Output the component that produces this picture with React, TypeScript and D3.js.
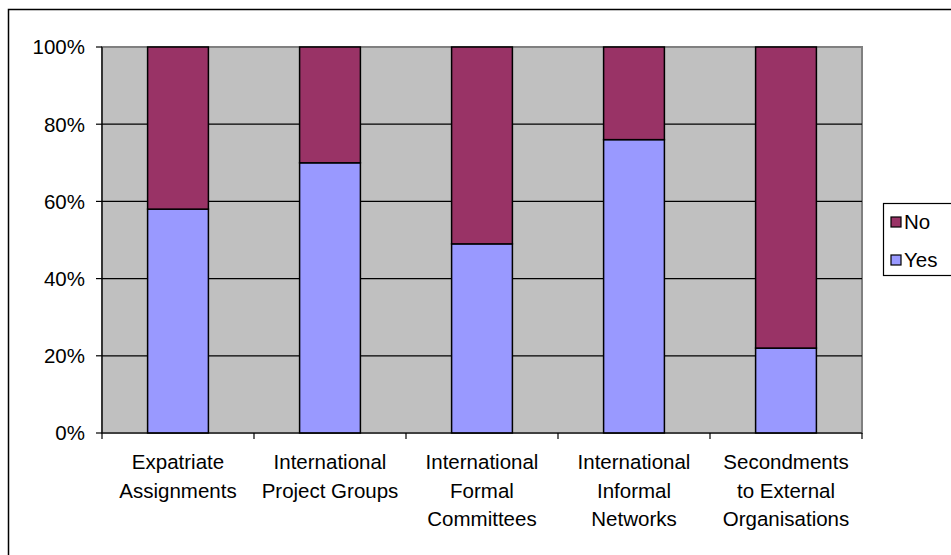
import React, { useRef, useEffect } from "react";
import * as d3 from "d3";

// Data
const categories: string[][] = [
  ["Expatriate", "Assignments"],
  ["International", "Project Groups"],
  ["International", "Formal", "Committees"],
  ["International", "Informal", "Networks"],
  ["Secondments", "to External", "Organisations"],
];
const yesValues = [58, 70, 49, 76, 22];
const noValues = yesValues.map((v) => 100 - v);
const yTicks = [0, 20, 40, 60, 80, 100];
const seriesNames = ["No", "Yes"];

const App: React.FC = () => {
  const svgRef = useRef<SVGSVGElement | null>(null);

  useEffect(() => {
    const width = 951;
    const height = 555;
    const plot = { left: 102, top: 47, right: 862, bottom: 433 };
    const font = "Arial, 'Liberation Sans', sans-serif";
    const fontSize = "20.5px";

    const svg = d3.select(svgRef.current);
    svg.selectAll("*").remove();
    svg.attr("width", width).attr("height", height);

    // chart background + border (runs off the right/bottom edge)
    svg
      .append("rect")
      .attr("x", 8.5)
      .attr("y", 9.5)
      .attr("width", width)
      .attr("height", height)
      .attr("fill", "white")
      .attr("stroke", "black")
      .attr("stroke-width", 1.5);

    // category bands: one band per category, bar = band / 2.5 (gap 150%)
    const x = d3
      .scaleBand<number>()
      .domain(d3.range(categories.length))
      .range([plot.left, plot.right]);
    const cw = x.bandwidth();
    const bw = cw / 2.5;
    const barX = (i: number) => (x(i) as number) + (cw - bw) / 2;
    const edge = (i: number) => plot.left + i * cw;

    const y = d3.scaleLinear().domain([0, 100]).range([plot.bottom, plot.top]);

    // plot area
    svg
      .append("rect")
      .attr("x", plot.left)
      .attr("y", plot.top)
      .attr("width", plot.right - plot.left)
      .attr("height", plot.bottom - plot.top)
      .attr("fill", "#C0C0C0")
      .attr("stroke", "#808080")
      .attr("stroke-width", 2);

    // gridlines
    svg
      .append("g")
      .selectAll("line")
      .data(yTicks.filter((t) => t > 0 && t < 100))
      .join("line")
      .attr("x1", plot.left)
      .attr("x2", plot.right)
      .attr("y1", (d) => y(d))
      .attr("y2", (d) => y(d))
      .attr("stroke", "black")
      .attr("stroke-width", 1.2);

    // bars
    svg
      .append("g")
      .selectAll("rect")
      .data(yesValues)
      .join("rect")
      .attr("x", (_, i) => barX(i))
      .attr("y", (d) => y(d))
      .attr("width", bw)
      .attr("height", (d) => y(0) - y(d))
      .attr("fill", "#9999FF")
      .attr("stroke", "black")
      .attr("stroke-width", 1.5);

    svg
      .append("g")
      .selectAll("rect")
      .data(noValues)
      .join("rect")
      .attr("x", (_, i) => barX(i))
      .attr("y", (d, i) => y(yesValues[i] + d))
      .attr("width", bw)
      .attr("height", (d) => y(0) - y(d))
      .attr("fill", "#993366")
      .attr("stroke", "black")
      .attr("stroke-width", 1.5);

    // axis lines
    svg
      .append("line")
      .attr("x1", plot.left)
      .attr("x2", plot.left)
      .attr("y1", plot.top)
      .attr("y2", plot.bottom)
      .attr("stroke", "black")
      .attr("stroke-width", 1.2);
    svg
      .append("line")
      .attr("x1", plot.left)
      .attr("x2", plot.right)
      .attr("y1", plot.bottom)
      .attr("y2", plot.bottom)
      .attr("stroke", "black")
      .attr("stroke-width", 1.2);

    // y ticks
    const yAxis = svg.append("g");
    yAxis
      .selectAll("line")
      .data(yTicks)
      .join("line")
      .attr("x1", plot.left - 6)
      .attr("x2", plot.left)
      .attr("y1", (d) => y(d))
      .attr("y2", (d) => y(d))
      .attr("stroke", "black")
      .attr("stroke-width", 1.2);
    yAxis
      .selectAll("text")
      .data(yTicks)
      .join("text")
      .attr("x", plot.left - 17)
      .attr("y", (d) => y(d))
      .attr("dy", "0.36em")
      .attr("text-anchor", "end")
      .style("font-family", font)
      .style("font-size", fontSize)
      .text((d) => `${d}%`);

    // x ticks at category boundaries
    svg
      .append("g")
      .selectAll("line")
      .data(d3.range(categories.length + 1))
      .join("line")
      .attr("x1", (d) => edge(d))
      .attr("x2", (d) => edge(d))
      .attr("y1", plot.bottom)
      .attr("y2", plot.bottom + 6)
      .attr("stroke", "black")
      .attr("stroke-width", 1.2);

    // category labels
    categories.forEach((lines, i) => {
      svg
        .append("text")
        .attr("text-anchor", "middle")
        .style("font-family", font)
        .style("font-size", fontSize)
        .selectAll("tspan")
        .data(lines)
        .join("tspan")
        .attr("x", (x(i) as number) + cw / 2)
        .attr("y", (_, j) => 469 + j * 28.5)
        .text((d) => d);
    });

    // legend
    const lg = svg.append("g");
    lg.append("rect")
      .attr("x", 883.5)
      .attr("y", 203.5)
      .attr("width", 80)
      .attr("height", 72)
      .attr("fill", "white")
      .attr("stroke", "black")
      .attr("stroke-width", 1.2);
    const legendColors = ["#993366", "#9999FF"];
    seriesNames.forEach((name, i) => {
      const yy = 222 + i * 38;
      lg.append("rect")
        .attr("x", 891)
        .attr("y", yy - 5)
        .attr("width", 10)
        .attr("height", 10)
        .attr("fill", legendColors[i])
        .attr("stroke", "black")
        .attr("stroke-width", 1.2);
      lg.append("text")
        .attr("x", 904)
        .attr("y", yy)
        .attr("dy", "0.36em")
        .style("font-family", font)
        .style("font-size", fontSize)
        .text(name);
    });
  }, []);

  return (
    <div>
      <svg ref={svgRef} style={{ position: "absolute", left: 0, top: 0 }}></svg>
    </div>
  );
};

export default App;
